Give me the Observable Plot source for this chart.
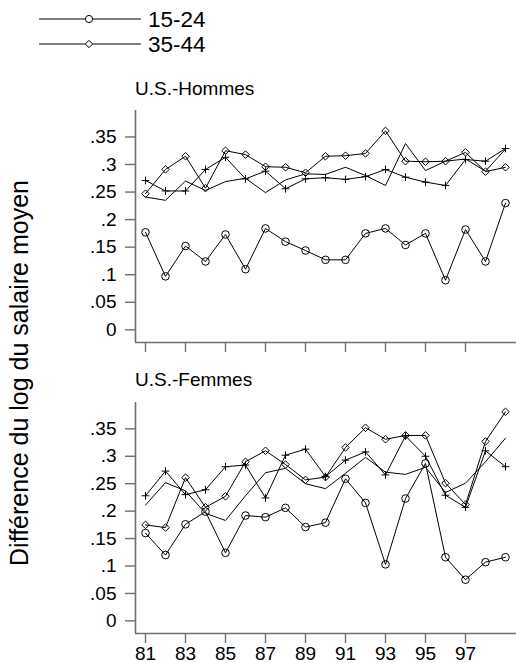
<!DOCTYPE html>
<html>
<head>
<meta charset="utf-8">
<script src="https://cdn.jsdelivr.net/npm/d3@7"></script>
<script src="https://cdn.jsdelivr.net/npm/@observablehq/plot@0.6"></script>
<style>
  html, body { margin: 0; padding: 0; background: #fff; }
  #page { position: relative; width: 516px; height: 663px; overflow: hidden; background: #fff;
          font-family: "Liberation Sans", Arial, Helvetica, sans-serif; }
  .abs { position: absolute; left: 0; }
  svg { display: block; }
</style>
</head>
<body>
<div id="page"></div>
<script>
// ---- data ----
const years = [81, 82, 83, 84, 85, 86, 87, 88, 89, 90, 91, 92, 93, 94, 95, 96, 97, 98, 99];
const xTicks = [81, 83, 85, 87, 89, 91, 93, 95, 97];
const yTicks = [0, 0.05, 0.1, 0.15, 0.2, 0.25, 0.3, 0.35];
const groups = ["15-24", "25-34", "35-44", "45-54"];
const legendLabels = ["15-24", "35-44"];
const panelTitles = ["U.S.-Hommes", "U.S.-Femmes"];
const yTitle = "Différence du log du salaire moyen";

const hommes_15_24 = [0.177, 0.097, 0.152, 0.124, 0.173, 0.110, 0.184, 0.160, 0.144, 0.127, 0.127, 0.175, 0.184, 0.154, 0.175, 0.090, 0.182, 0.124, 0.230];
const hommes_25_34 = [0.271, 0.252, 0.252, 0.291, 0.313, 0.274, 0.288, 0.256, 0.274, 0.276, 0.273, 0.278, 0.291, 0.277, 0.268, 0.262, 0.309, 0.306, 0.329];
const hommes_35_44 = [0.247, 0.291, 0.315, 0.257, 0.325, 0.318, 0.296, 0.295, 0.285, 0.315, 0.316, 0.320, 0.361, 0.306, 0.305, 0.306, 0.322, 0.287, 0.295];
const hommes_45_54 = [0.241, 0.235, 0.270, 0.253, 0.269, 0.275, 0.249, 0.272, 0.283, 0.282, 0.295, 0.280, 0.262, 0.338, 0.289, 0.306, 0.310, 0.288, 0.328];

const femmes_15_24 = [0.160, 0.120, 0.176, 0.199, 0.124, 0.192, 0.189, 0.206, 0.171, 0.179, 0.259, 0.215, 0.103, 0.223, 0.287, 0.116, 0.075, 0.107, 0.116];
const femmes_25_34 = [0.228, 0.273, 0.230, 0.239, 0.281, 0.284, 0.224, 0.302, 0.313, 0.263, 0.293, 0.308, 0.266, 0.337, 0.300, 0.229, 0.207, 0.310, 0.281];
const femmes_35_44 = [0.175, 0.170, 0.261, 0.207, 0.227, 0.290, 0.310, 0.285, 0.257, 0.262, 0.316, 0.352, 0.331, 0.338, 0.338, 0.251, 0.212, 0.327, 0.381];
const femmes_45_54 = [0.211, 0.252, 0.237, 0.196, 0.183, 0.228, 0.270, 0.278, 0.250, 0.241, 0.269, 0.298, 0.271, 0.267, 0.280, 0.234, 0.251, 0.290, 0.333];

// ---- build tables ----
function table(series) {
  const rows = [];
  series.forEach((vals, gi) => vals.forEach((v, i) => rows.push({year: years[i], value: v, group: groups[gi]})));
  return rows;
}
const hommes = table([hommes_15_24, hommes_25_34, hommes_35_44, hommes_45_54]);
const femmes = table([femmes_15_24, femmes_25_34, femmes_35_44, femmes_45_54]);

const FONT = '"Liberation Sans", Arial, Helvetica, sans-serif';
const GRAY = "#6f6f6f";
const xDom = [80.5, 99.55];
const yDom = [-0.023, 0.398];
const yFmt = d => d === 0 ? "0" : d3.format(".2~f")(d).replace(/^0\./, ".");

function panel(rows, showLabels, height, marginBottom) {
  return Plot.plot({
    width: 516, height,
    marginLeft: 135, marginRight: 0, marginTop: 10, marginBottom,
    x: {domain: xDom},
    y: {domain: yDom},
    style: {fontFamily: FONT, fontSize: "19px", background: "transparent", color: "black"},
    marks: [
      Plot.axisY({ticks: yTicks, tickSize: 10, tickPadding: 9, tickFormat: yFmt,
                  stroke: GRAY, strokeWidth: 1.4, fill: "black", fontSize: 19, label: null}),
      Plot.axisX({ticks: xTicks, tickSize: 10, tickPadding: 3,
                  tickFormat: showLabels ? (d => String(d)) : (() => ""),
                  stroke: GRAY, strokeWidth: 1.4, fill: "black", fontSize: 19, label: null}),
      Plot.ruleX([xDom[0]], {stroke: GRAY, strokeWidth: 1.6}),
      Plot.ruleY([yDom[0]], {stroke: GRAY, strokeWidth: 1.6}),
      Plot.line(rows, {x: "year", y: "value", z: "group", stroke: "black", strokeWidth: 1}),
      Plot.dot(rows.filter(d => d.group === "15-24"), {x: "year", y: "value", symbol: "circle", r: 3.8, stroke: "black", fill: "none", strokeWidth: 1}),
      Plot.dot(rows.filter(d => d.group === "25-34"), {x: "year", y: "value", symbol: "plus", r: 2.6, stroke: "black", fill: "none", strokeWidth: 1}),
      Plot.dot(rows.filter(d => d.group === "35-44"), {x: "year", y: "value", symbol: "diamond2", r: 3.4, stroke: "black", fill: "none", strokeWidth: 1})
    ]
  });
}

const page = document.getElementById("page");

const p1 = panel(hommes, false, 262, 20);
p1.classList.add("abs"); p1.style.top = "100px";
page.appendChild(p1);

const p2 = panel(femmes, true, 271, 30);
p2.classList.add("abs"); p2.style.top = "392px";
page.appendChild(p2);

// ---- overlay: legend, panel titles, y title ----
const ov = d3.select(page).append("svg")
  .attr("class", "abs").style("top", "0px")
  .attr("width", 516).attr("height", 663)
  .style("pointer-events", "none")
  .style("font-family", FONT);

// legend
const lg = [
  {label: legendLabels[0], y: 19, color: "black", width: 1.2, sym: "circle"},
  {label: legendLabels[1], y: 44, color: "#808080", width: 1.8, sym: "diamond"}
];
lg.forEach(d => {
  ov.append("line").attr("x1", 39).attr("x2", 141).attr("y1", d.y).attr("y2", d.y)
    .attr("stroke", d.color).attr("stroke-width", d.width);
  if (d.sym === "circle") {
    ov.append("circle").attr("cx", 89).attr("cy", d.y).attr("r", 3.6)
      .attr("fill", "white").attr("stroke", "black").attr("stroke-width", 1);
  } else {
    ov.append("path").attr("transform", `translate(89,${d.y})`)
      .attr("d", d3.symbol(d3.symbolDiamond2, 3.3 * 3.3 * Math.PI)())
      .attr("fill", "white").attr("stroke", "black").attr("stroke-width", 1);
  }
  ov.append("text").attr("x", 148).attr("y", d.y + 8)
    .attr("font-size", 22.5).attr("fill", "black").text(d.label);
});

// panel titles
ov.append("text").attr("x", 135).attr("y", 95).attr("font-size", 19).text(panelTitles[0]);
ov.append("text").attr("x", 135).attr("y", 386).attr("font-size", 19).text(panelTitles[1]);

// y-axis title
ov.append("text").attr("transform", "translate(28,373) rotate(-90)")
  .attr("text-anchor", "middle").attr("font-size", 25).text(yTitle);
</script>
</body>
</html>
